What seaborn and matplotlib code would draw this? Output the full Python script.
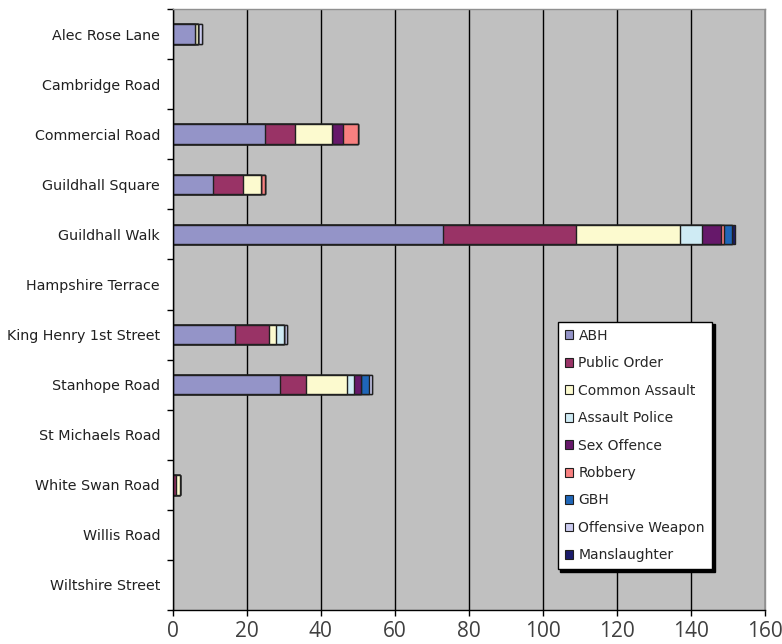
import pandas as pd
import matplotlib.pyplot as plt
import seaborn as sns
from matplotlib.patches import Patch

# Data
locations = ['Alec Rose Lane', 'Cambridge Road', 'Commercial Road', 'Guildhall Square',
             'Guildhall Walk', 'Hampshire Terrace', 'King Henry 1st Street', 'Stanhope Road',
             'St Michaels Road', 'White Swan Road', 'Willis Road', 'Wiltshire Street']
abh = [6, 0, 25, 11, 73, 0, 17, 29, 0, 0, 0, 0]
public_order = [0, 0, 8, 8, 36, 0, 9, 7, 0, 1, 0, 0]
common_assault = [1, 0, 10, 5, 28, 0, 2, 11, 0, 1, 0, 0]
assault_police = [0, 0, 0, 0, 6, 0, 2, 2, 0, 0, 0, 0]
sex_offence = [0, 0, 3, 0, 5, 0, 0, 2, 0, 0, 0, 0]
robbery = [0, 0, 4, 1, 1, 0, 0, 0, 0, 0, 0, 0]
gbh = [0, 0, 0, 0, 2, 0, 0, 2, 0, 0, 0, 0]
offensive_weapon = [1, 0, 0, 0, 0, 0, 1, 1, 0, 0, 0, 0]
manslaughter = [0, 0, 0, 0, 1, 0, 0, 0, 0, 0, 0, 0]

crimes = ['ABH', 'Public Order', 'Common Assault', 'Assault Police', 'Sex Offence',
          'Robbery', 'GBH', 'Offensive Weapon', 'Manslaughter']
colors = ['#9494C8', '#993366', '#FCFACF', '#CFEBF4', '#66186A',
          '#F88080', '#1F66B8', '#CCCCF0', '#1C1C6B']

df = pd.DataFrame({'Location': locations, 'ABH': abh, 'Public Order': public_order,
                   'Common Assault': common_assault, 'Assault Police': assault_police,
                   'Sex Offence': sex_offence, 'Robbery': robbery, 'GBH': gbh,
                   'Offensive Weapon': offensive_weapon, 'Manslaughter': manslaughter})
cum = df[crimes].cumsum(axis=1)
cum['Location'] = df['Location']

sns.set_theme(style='white')
plt.rcParams['font.family'] = ['DejaVu Sans']

fig = plt.figure(figsize=(7.82, 6.44), dpi=100)
ax = fig.add_axes([0.2206, 0.0528, 0.9783 - 0.2206, 0.986 - 0.0528])
ax.set_facecolor('#C0C0C0')

# stacked bars: draw cumulative totals from the last segment back to the first
for crime, col in reversed(list(zip(crimes, colors))):
    sns.barplot(data=cum, y='Location', x=crime, orient='h', color=col,
                width=0.39, edgecolor='#202020', linewidth=1, saturation=1,
                order=locations, ax=ax)

# hide empty bars (they would leave an edge line at zero)
for p in ax.patches:
    if p.get_width() == 0:
        p.set_visible(False)

ax.set_xlim(0, 160)
ax.set_ylim(11.5, -0.5)
ax.set_xticks(range(0, 161, 20))
ax.xaxis.grid(True, color='black', linewidth=1)
ax.yaxis.grid(False)
ax.set_axisbelow(True)
ax.set_xlabel('')
ax.set_ylabel('')

ax.set_yticks(range(len(locations)))
ax.set_yticklabels(locations, fontsize=10.3, color='#202020')
ax.set_yticks([i - 0.5 for i in range(len(locations) + 1)], minor=True)
ax.tick_params(axis='y', which='major', length=0, pad=9)
ax.tick_params(axis='y', which='minor', length=4, width=1, color='black', direction='out', left=True)
ax.tick_params(axis='x', length=4, width=1, color='black', direction='out', bottom=True,
               labelsize=15, labelcolor='#404040', pad=4)
for lbl in ax.get_xticklabels():
    lbl.set_family('Open Sans')

for side in ['left', 'bottom']:
    ax.spines[side].set_color('black')
    ax.spines[side].set_linewidth(1)
for side in ['top', 'right']:
    ax.spines[side].set_color('#909090')
    ax.spines[side].set_linewidth(1)

handles = [Patch(facecolor=c, edgecolor='#202020', linewidth=0.8, label=n)
           for n, c in zip(crimes, colors)]
leg = ax.legend(handles=handles, loc='upper left', bbox_to_anchor=(0.650, 0.4797),
                borderaxespad=0, frameon=True, fancybox=False,
                shadow={'color': 'black', 'alpha': 1},
                fontsize=10, labelspacing=0.97, handlelength=0.6, handleheight=0.6,
                handletextpad=0.4, borderpad=0.5)
leg.get_frame().set_edgecolor('black')
leg.get_frame().set_facecolor('white')
leg.get_frame().set_alpha(1)
leg.get_frame().set_linewidth(1)

fig.savefig('out.png', dpi=100)
